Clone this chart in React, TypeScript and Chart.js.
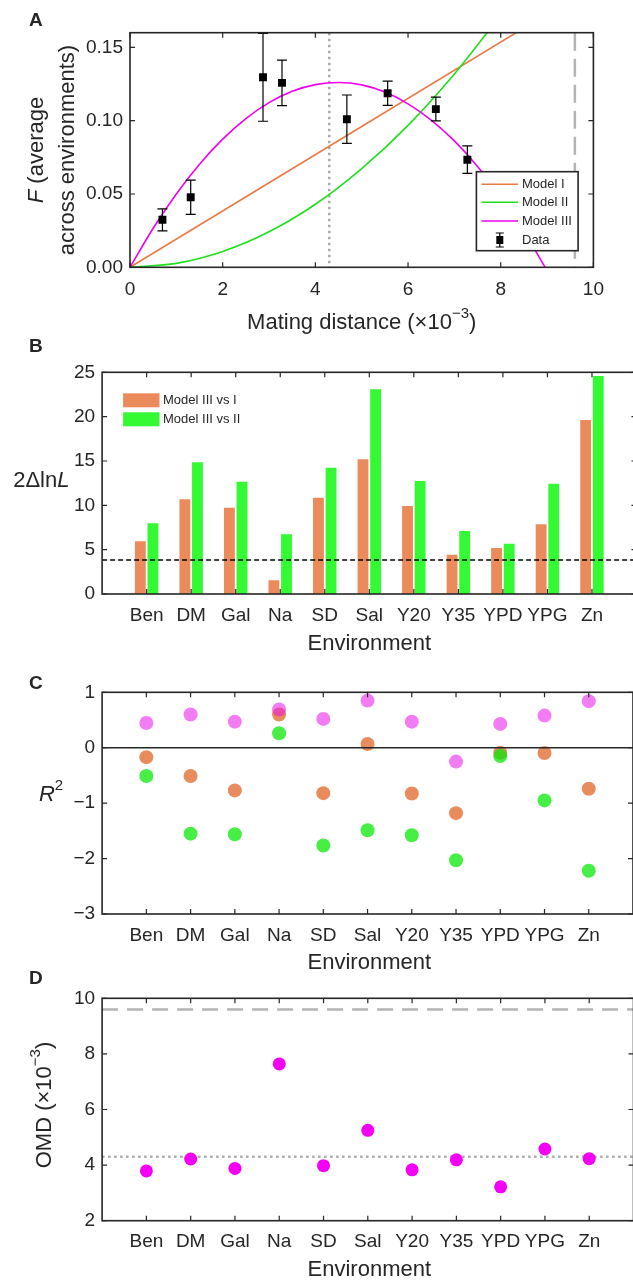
import { useEffect, useRef } from 'react';
import { Chart, registerables } from 'chart.js';
Chart.register(...registerables);

const W = 640;
const H = 1280;
const FONT = '"Liberation Sans", Arial, Helvetica, sans-serif';
const INK = '#262626';
Chart.defaults.font.family = FONT;

// ---------- Panel A data ----------
const dataX = [0.70, 1.31, 2.87, 3.28, 4.68, 5.56, 6.60, 7.28];
const dataF = [0.0324, 0.0478, 0.1296, 0.1258, 0.1010, 0.1187, 0.1079, 0.0734];
const dataErr = [0.0075, 0.0117, 0.0300, 0.0155, 0.0165, 0.0083, 0.0081, 0.0094];
const model1X = [0, 5, 10];
const model1Y = [0, 0.096, 0.192];
const model2X = [0, 1, 2, 3, 4, 5, 6, 7, 8];
const model2Y = [0, 0.0027, 0.0108, 0.0242, 0.0430, 0.0673, 0.0968, 0.1318, 0.1720];
const model3X = [0, 0.5, 1, 1.5, 2, 2.5, 3, 3.5, 4, 4.5, 5, 5.5, 6, 6.5, 7, 7.5, 8, 8.5, 9];
const model3Y = [0, 0.0266, 0.0500, 0.0703, 0.0874, 0.1014, 0.1123, 0.1200, 0.1246, 0.1260,
  0.1244, 0.1195, 0.1115, 0.1004, 0.0862, 0.0688, 0.0482, 0.0246, -0.0023];
const xTicksA = [0, 2, 4, 6, 8, 10];
const yTicksA = [0, 0.05, 0.10, 0.15];
const omdOptimal = 4.3;
const omdMax = 9.6;
const modelLabels = ['Model I', 'Model II', 'Model III', 'Data'];

// ---------- Panels B-D ----------
const environments = ['Ben', 'DM', 'Gal', 'Na', 'SD', 'Sal', 'Y20', 'Y35', 'YPD', 'YPG', 'Zn'];
const envPositions = [1, 2, 3, 4, 5, 6, 7, 8, 9, 10, 11];
const lrtIIIvsI = [5.94, 10.68, 9.74, 1.54, 10.86, 15.19, 9.92, 4.44, 5.19, 7.86, 19.62];
const lrtIIIvsII = [7.97, 14.85, 12.67, 6.73, 14.25, 23.08, 12.74, 7.10, 5.68, 12.44, 24.59];
const chiCrit = 3.84;
const yTicksB = [0, 5, 10, 15, 20, 25];
const barLabels = ['Model III vs I', 'Model III vs II'];

const r2ModelI = [-0.17, -0.51, -0.77, 0.60, -0.82, 0.066, -0.825, -1.18, -0.09, -0.096, -0.74];
const r2ModelII = [-0.51, -1.55, -1.56, 0.26, -1.765, -1.49, -1.58, -2.03, -0.15, -0.95, -2.22];
const r2ModelIII = [0.446, 0.60, 0.47, 0.69, 0.52, 0.85, 0.47, -0.25, 0.43, 0.58, 0.84];
const yTicksC = [-3, -2, -1, 0, 1];

const omd = [3.79, 4.22, 3.88, 7.64, 3.98, 5.25, 3.83, 4.19, 3.22, 4.58, 4.23];
const yTicksD = [2, 4, 6, 8, 10];

// ---------- styles ----------
const C_ORANGE_LINE = '#E97A45';
const C_GREEN_LINE = '#1EE01E';
const C_MAGENTA_LINE = '#F000F0';
const C_ORANGE_BAR = '#EB8A5B';
const C_GREEN_BAR = '#33FA33';
const C_ORANGE_DOT = 'rgba(222,91,26,0.7)';
const C_GREEN_DOT = 'rgba(8,232,8,0.75)';
const C_MAGENTA_DOT = 'rgba(231,17,231,0.55)';
const C_MAGENTA_SOLID = '#F400F4';

type Area = { L: number; R: number; T: number; B: number };
const AREA_A: Area = { L: 130, R: 593.4, T: 32.7, B: 267.3 };
const AREA_B: Area = { L: 102.1, R: 636.5, T: 372.3, B: 594 };
const AREA_C: Area = { L: 102.1, R: 636.5, T: 692.3, B: 914 };
const AREA_D: Area = { L: 102.1, R: 636.5, T: 998.3, B: 1220.7 };
const XH = 40;

type Part = { t: string; size: number; italic?: boolean; bold?: boolean; dy?: number };
function fontOf(p: Part) {
  return `${p.italic ? 'italic ' : ''}${p.bold ? 'bold ' : ''}${p.size}px ${FONT}`;
}
function drawParts(ctx: CanvasRenderingContext2D, parts: Part[], x: number, y: number, align: 'left' | 'center') {
  ctx.save();
  ctx.textBaseline = 'middle';
  ctx.textAlign = 'left';
  ctx.fillStyle = INK;
  let total = 0;
  for (const p of parts) { ctx.font = fontOf(p); total += ctx.measureText(p.t).width; }
  let cx = align === 'center' ? x - total / 2 : x;
  for (const p of parts) {
    ctx.font = fontOf(p);
    ctx.fillText(p.t, cx, y + (p.dy || 0));
    cx += ctx.measureText(p.t).width;
  }
  ctx.restore();
}
function drawRotated(ctx: CanvasRenderingContext2D, parts: Part[], cx: number, cy: number) {
  ctx.save();
  ctx.translate(cx, cy);
  ctx.rotate(-Math.PI / 2);
  drawParts(ctx, parts, 0, 0, 'center');
  ctx.restore();
}

function layoutFor(a: Area) {
  return { padding: { left: 0, top: a.T, right: W - a.R, bottom: H - a.B - XH } };
}
function xScale(min: number, max: number, ticks: number[], cb: (v: number) => string, pad: number) {
  return {
    type: 'linear', min, max, offset: false,
    grid: { display: false, drawTicks: false, offset: false }, border: { display: false },
    afterBuildTicks: (s: any) => { s.ticks = ticks.map((v) => ({ value: v })); },
    afterFit: (s: any) => { s.height = XH; },
    ticks: { autoSkip: false, maxRotation: 0, minRotation: 0, padding: pad, color: INK, font: { family: FONT, size: 19 }, callback: (v: any) => cb(Number(v)) },
  };
}
function yScale(a: Area, min: number, max: number, ticks: number[], cb: (v: number) => string) {
  return {
    type: 'linear', min, max,
    grid: { display: false, drawTicks: false }, border: { display: false },
    afterBuildTicks: (s: any) => { s.ticks = ticks.map((v) => ({ value: v })); },
    afterFit: (s: any) => { s.width = a.L; },
    ticks: { padding: 7, color: INK, font: { family: FONT, size: 19 }, callback: (v: any) => cb(Number(v)) },
  };
}

function drawFrame(chart: any, xt: number[], yt: number[]) {
  const ctx: CanvasRenderingContext2D = chart.ctx;
  const { left, right, top, bottom } = chart.chartArea;
  const xs = chart.scales.x, ys = chart.scales.y;
  ctx.save();
  ctx.strokeStyle = INK;
  ctx.lineWidth = 1.6;
  ctx.strokeRect(left, top, right - left, bottom - top);
  ctx.lineWidth = 1.2;
  ctx.beginPath();
  for (const v of xt) {
    const px = xs.getPixelForValue(v);
    ctx.moveTo(px, bottom); ctx.lineTo(px, bottom - 5);
    ctx.moveTo(px, top); ctx.lineTo(px, top + 5);
  }
  for (const v of yt) {
    const py = ys.getPixelForValue(v);
    ctx.moveTo(left, py); ctx.lineTo(left + 5, py);
    ctx.moveTo(right, py); ctx.lineTo(right - 5, py);
  }
  ctx.stroke();
  ctx.restore();
}
function hLine(chart: any, v: number, color: string, width: number, dash: number[]) {
  const ctx: CanvasRenderingContext2D = chart.ctx;
  const { left, right } = chart.chartArea;
  const py = chart.scales.y.getPixelForValue(v);
  ctx.save();
  ctx.strokeStyle = color; ctx.lineWidth = width; ctx.setLineDash(dash);
  ctx.beginPath(); ctx.moveTo(left, py); ctx.lineTo(right, py); ctx.stroke();
  ctx.restore();
}
function vLine(chart: any, v: number, color: string, width: number, dash: number[]) {
  const ctx: CanvasRenderingContext2D = chart.ctx;
  const { top, bottom } = chart.chartArea;
  const px = chart.scales.x.getPixelForValue(v);
  ctx.save();
  ctx.strokeStyle = color; ctx.lineWidth = width; ctx.setLineDash(dash);
  ctx.beginPath(); ctx.moveTo(px, top); ctx.lineTo(px, bottom); ctx.stroke();
  ctx.restore();
}
function envTick(v: number) {
  return environments[v - 1] ?? '';
}
const baseOptions = (a: Area) => ({
  responsive: false,
  maintainAspectRatio: false,
  animation: false,
  devicePixelRatio: 1,
  events: [],
  layout: layoutFor(a),
  plugins: { legend: { display: false }, tooltip: { enabled: false }, title: { display: false } },
});

// ---------- Panel A ----------
function configA(): any {
  const a = AREA_A;
  const curve = (xs: number[], ys: number[], color: string, order: number) => ({
    label: '', data: xs.map((x, i) => ({ x, y: ys[i] })), borderColor: color, backgroundColor: color,
    borderWidth: 1.6, pointRadius: 0, cubicInterpolationMode: 'monotone', fill: false, order,
  });
  return {
    type: 'line',
    data: {
      datasets: [
        curve(model1X, model1Y, C_ORANGE_LINE, 3),
        curve(model2X, model2Y, C_GREEN_LINE, 2),
        curve(model3X, model3Y, C_MAGENTA_LINE, 1),
        {
          label: 'Data', data: dataX.map((x, i) => ({ x, y: dataF[i] })), showLine: false,
          pointStyle: 'rect', pointRadius: 5.6, pointBackgroundColor: '#000', pointBorderColor: '#000', pointBorderWidth: 0, order: 0,
        },
      ],
    },
    options: {
      ...baseOptions(a),
      scales: {
        x: xScale(0, 10, xTicksA, (v) => String(v), 11),
        y: yScale(a, 0, 0.16, yTicksA, (v) => v.toFixed(2)),
      },
    },
    plugins: [{
      id: 'decorA',
      beforeDatasetsDraw(chart: any) {
        vLine(chart, omdOptimal, '#ABABAB', 2.5, [2.5, 3.5]);
        vLine(chart, omdMax, '#B4B4B4', 2.5, [18, 8]);
      },
      afterDatasetsDraw(chart: any) {
        const ctx: CanvasRenderingContext2D = chart.ctx;
        const xs = chart.scales.x, ys = chart.scales.y;
        const { left, right, top, bottom } = chart.chartArea;
        ctx.save();
        ctx.beginPath(); ctx.rect(left, top - 1, right - left, bottom - top + 2); ctx.clip();
        ctx.strokeStyle = '#000'; ctx.lineWidth = 1.2;
        ctx.beginPath();
        dataX.forEach((x, i) => {
          const px = xs.getPixelForValue(x);
          const yh = ys.getPixelForValue(dataF[i] + dataErr[i]);
          const yl = ys.getPixelForValue(dataF[i] - dataErr[i]);
          ctx.moveTo(px, yh); ctx.lineTo(px, yl);
          ctx.moveTo(px - 5, yh); ctx.lineTo(px + 5, yh);
          ctx.moveTo(px - 5, yl); ctx.lineTo(px + 5, yl);
        });
        ctx.stroke();
        ctx.restore();
        drawFrame(chart, xTicksA, yTicksA);
        // legend
        const lx0 = 476.4, lx1 = 578.1, ly0 = 171.7, ly1 = 250.7;
        ctx.save();
        ctx.fillStyle = '#fff';
        ctx.fillRect(lx0, ly0, lx1 - lx0, ly1 - ly0);
        ctx.strokeStyle = INK; ctx.lineWidth = 1.6;
        ctx.strokeRect(lx0, ly0, lx1 - lx0, ly1 - ly0);
        const rows = [184.3, 202.3, 221, 240];
        const cols = [C_ORANGE_LINE, C_GREEN_LINE, C_MAGENTA_LINE];
        cols.forEach((c, i) => {
          ctx.strokeStyle = c; ctx.lineWidth = 1.6;
          ctx.beginPath(); ctx.moveTo(481.6, rows[i]); ctx.lineTo(518, rows[i]); ctx.stroke();
        });
        const mx = 499.8, my = rows[3];
        ctx.strokeStyle = '#000'; ctx.lineWidth = 1.2;
        ctx.beginPath();
        ctx.moveTo(mx, my - 7); ctx.lineTo(mx, my + 7);
        ctx.moveTo(mx - 4, my - 7); ctx.lineTo(mx + 4, my - 7);
        ctx.moveTo(mx - 4, my + 7); ctx.lineTo(mx + 4, my + 7);
        ctx.stroke();
        ctx.fillStyle = '#000';
        ctx.fillRect(mx - 3.5, my - 4, 7, 8);
        ctx.restore();
        modelLabels.forEach((t, i) => drawParts(ctx, [{ t, size: 13 }], 522, rows[i], 'left'));
      },
      afterDraw(chart: any) {
        const ctx: CanvasRenderingContext2D = chart.ctx;
        drawParts(ctx, [{ t: 'A', size: 19, bold: true }], 29, 21, 'left');
        drawParts(ctx, [{ t: 'Mating distance (×10', size: 22 }, { t: '−3', size: 15, dy: -9 }, { t: ')', size: 22 }], 361.7, 323, 'center');
        drawRotated(ctx, [{ t: 'F', size: 22, italic: true }, { t: ' (average', size: 22 }], 37, 150);
        drawRotated(ctx, [{ t: 'across environments)', size: 22 }], 67.6, 150);
      },
    }],
  };
}

// ---------- Panel B ----------
function configB(): any {
  const a = AREA_B;
  return {
    type: 'bar',
    data: {
      datasets: [
        { label: barLabels[0], data: envPositions.map((x, i) => ({ x, y: lrtIIIvsI[i] })), backgroundColor: C_ORANGE_BAR, borderWidth: 0, barPercentage: 0.86, categoryPercentage: 0.566 },
        { label: barLabels[1], data: envPositions.map((x, i) => ({ x, y: lrtIIIvsII[i] })), backgroundColor: C_GREEN_BAR, borderWidth: 0, barPercentage: 0.86, categoryPercentage: 0.566 },
      ],
    },
    options: {
      ...baseOptions(a),
      scales: {
        x: xScale(0, 12, envPositions, envTick, 10),
        y: yScale(a, 0, 25, yTicksB, (v) => String(v)),
      },
    },
    plugins: [{
      id: 'decorB',
      afterDatasetsDraw(chart: any) {
        hLine(chart, chiCrit, '#000', 1.5, [5, 3]);
        drawFrame(chart, envPositions, yTicksB);
        const ctx: CanvasRenderingContext2D = chart.ctx;
        ctx.save();
        ctx.fillStyle = C_ORANGE_BAR; ctx.fillRect(123.1, 393.3, 36.4, 14);
        ctx.fillStyle = C_GREEN_BAR; ctx.fillRect(123.1, 412.3, 36.4, 14);
        ctx.restore();
        drawParts(ctx, [{ t: barLabels[0], size: 13 }], 163, 400.5, 'left');
        drawParts(ctx, [{ t: barLabels[1], size: 13 }], 163, 419.5, 'left');
      },
      afterDraw(chart: any) {
        const ctx: CanvasRenderingContext2D = chart.ctx;
        drawParts(ctx, [{ t: 'B', size: 19, bold: true }], 29, 347, 'left');
        drawParts(ctx, [{ t: '2Δln', size: 22 }, { t: 'L', size: 22, italic: true }], 41.3, 481, 'center');
        drawParts(ctx, [{ t: 'Environment', size: 22 }], 369.3, 644, 'center');
      },
    }],
  };
}

// ---------- Panel C ----------
function configC(): any {
  const a = AREA_C;
  const dots = (ys: number[], color: string, order: number) => ({
    label: '', data: envPositions.map((x, i) => ({ x, y: ys[i] })), pointRadius: 7,
    pointBackgroundColor: color, pointBorderWidth: 0, pointBorderColor: 'rgba(0,0,0,0)', order,
  });
  return {
    type: 'scatter',
    data: { datasets: [dots(r2ModelIII, C_MAGENTA_DOT, 0), dots(r2ModelII, C_GREEN_DOT, 1), dots(r2ModelI, C_ORANGE_DOT, 2)] },
    options: {
      ...baseOptions(a),
      scales: {
        x: xScale(0, 12, envPositions, envTick, 10),
        y: yScale(a, -3, 1, yTicksC, (v) => (v < 0 ? '−' + Math.abs(v) : String(v))),
      },
    },
    plugins: [{
      id: 'decorC',
      afterDatasetsDraw(chart: any) {
        hLine(chart, 0, INK, 1.6, []);
        drawFrame(chart, envPositions, yTicksC);
      },
      afterDraw(chart: any) {
        const ctx: CanvasRenderingContext2D = chart.ctx;
        drawParts(ctx, [{ t: 'C', size: 19, bold: true }], 29, 684, 'left');
        drawParts(ctx, [{ t: 'R', size: 22, italic: true }, { t: '2', size: 15, dy: -9 }], 51, 795, 'center');
        drawParts(ctx, [{ t: 'Environment', size: 22 }], 369.3, 963, 'center');
      },
    }],
  };
}

// ---------- Panel D ----------
function configD(): any {
  const a = AREA_D;
  return {
    type: 'scatter',
    data: {
      datasets: [{
        label: 'OMD', data: envPositions.map((x, i) => ({ x, y: omd[i] })), pointRadius: 6.5,
        pointBackgroundColor: C_MAGENTA_SOLID, pointBorderWidth: 0, pointBorderColor: 'rgba(0,0,0,0)',
      }],
    },
    options: {
      ...baseOptions(a),
      scales: {
        x: xScale(0, 12, envPositions, envTick, 10),
        y: yScale(a, 2, 10, yTicksD, (v) => String(v)),
      },
    },
    plugins: [{
      id: 'decorD',
      beforeDatasetsDraw(chart: any) {
        hLine(chart, omdMax, '#B4B4B4', 2.5, [16, 9]);
        hLine(chart, omdOptimal, '#ABABAB', 2.5, [2.5, 3.5]);
      },
      afterDatasetsDraw(chart: any) {
        drawFrame(chart, envPositions, yTicksD);
      },
      afterDraw(chart: any) {
        const ctx: CanvasRenderingContext2D = chart.ctx;
        drawParts(ctx, [{ t: 'D', size: 19, bold: true }], 29, 978.5, 'left');
        drawRotated(ctx, [{ t: 'OMD (×10', size: 22 }, { t: '−3', size: 15, dy: -9 }, { t: ')', size: 22 }], 45, 1105);
        drawParts(ctx, [{ t: 'Environment', size: 22 }], 369.3, 1270, 'center');
      },
    }],
  };
}

function ChartCanvas({ make }: { make: () => any }) {
  const ref = useRef<HTMLCanvasElement>(null);
  useEffect(() => {
    const chart = new Chart(ref.current as HTMLCanvasElement, make());
    return () => chart.destroy();
  }, []);
  return <canvas ref={ref} width={W} height={H} style={{ position: 'absolute', left: 0, top: 0, width: W, height: H }} />;
}

export default function App() {
  return (
    <div style={{ position: 'absolute', left: 0, top: 0, width: 633, height: 1280, overflow: 'hidden', background: '#fff' }}>
      <ChartCanvas make={configA} />
      <ChartCanvas make={configB} />
      <ChartCanvas make={configC} />
      <ChartCanvas make={configD} />
    </div>
  );
}
